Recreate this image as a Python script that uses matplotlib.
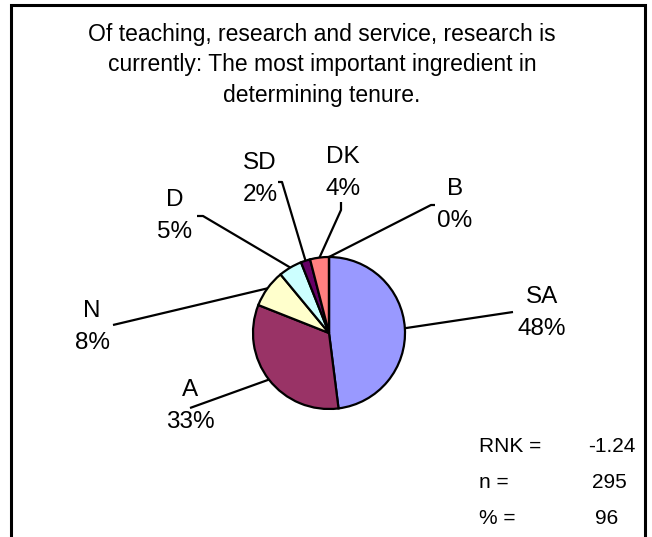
import numpy as np
import matplotlib
matplotlib.use("Agg")
import matplotlib.pyplot as plt
from matplotlib.patches import Rectangle

plt.rcParams['font.family'] = ['Liberation Sans', 'DejaVu Sans']

# data
labels = ["SA", "A", "N", "D", "SD", "DK", "B"]
shares = [48, 33, 8, 5, 2, 4, 0]
colors = ["#9999FF", "#993366", "#FFFFCC", "#CCFFFF", "#660066", "#FF8080", "#0066CC"]
stat_names = ["RNK =", "n =", "% ="]
stat_values = ["-1.24", "295", "96"]
title = ("Of teaching, research and service, research is\n"
         "currently: The most important ingredient in\n"
         "determining tenure.")

W, H = 652, 537
fig = plt.figure(figsize=(W / 100, H / 100), dpi=100)
ax = fig.add_axes([0, 0, 1, 1])
ax.axis('off')

# outer frame (bottom edge cut off in the original)
ax.add_patch(Rectangle((11, -10), 634, H - 5 + 10, fill=False, ec='black', lw=2.2))

ax.text(322, H - 65, title, ha='center', va='center', fontsize=16.5,
        linespacing=1.41)

# pie, clockwise from 12 o'clock
cx, cy, r = 329, H - 333, 76
wedges, _ = ax.pie(shares, colors=colors, startangle=90, counterclock=False,
                   center=(cx, cy), radius=r,
                   wedgeprops=dict(edgecolor='black', linewidth=1.6))
ax.set_xlim(0, W)
ax.set_ylim(0, H)
ax.set_aspect('equal')

# label centre positions and where the leader line starts (pixels, y down)
label_pos = {
    "SA": (542, 313), "A": (190, 406), "N": (92, 327), "D": (175, 216),
    "SD": (260, 179), "DK": (343, 173), "B": (455, 205),
}
line_start = {
    "SA": [(513, 312)], "A": [(190, 408)], "N": [(113, 325)],
    "D": [(197, 216), (203, 216)], "SD": [(278, 182), (282, 182)],
    "DK": [(341, 202), (341, 210)], "B": [(435, 205), (431, 205)],
}

for w, lab, val in zip(wedges, labels, shares):
    mid = np.deg2rad((w.theta1 + w.theta2) / 2)
    ex, ey = cx + r * np.cos(mid), cy + r * np.sin(mid)
    pts = line_start[lab]
    xs = [p[0] for p in pts] + [ex]
    ys = [H - p[1] for p in pts] + [ey]
    ax.plot(xs, ys, color='black', lw=1.6, solid_capstyle='butt')
    lx, ly = label_pos[lab]
    ax.text(lx, H - ly, f"{lab}\n{val}%", ha='center', va='center',
            fontsize=17.5, linespacing=1.55)

# stats block
stat_x = [612, 609, 607]
stat_y = [446, 483, 518]
for name, v, sx, sy in zip(stat_names, stat_values, stat_x, stat_y):
    ax.text(479, H - sy, name, ha='left', va='center', fontsize=15)
    ax.text(sx, H - sy, v, ha='center', va='center', fontsize=15)

fig.savefig("out.png", dpi=100)
